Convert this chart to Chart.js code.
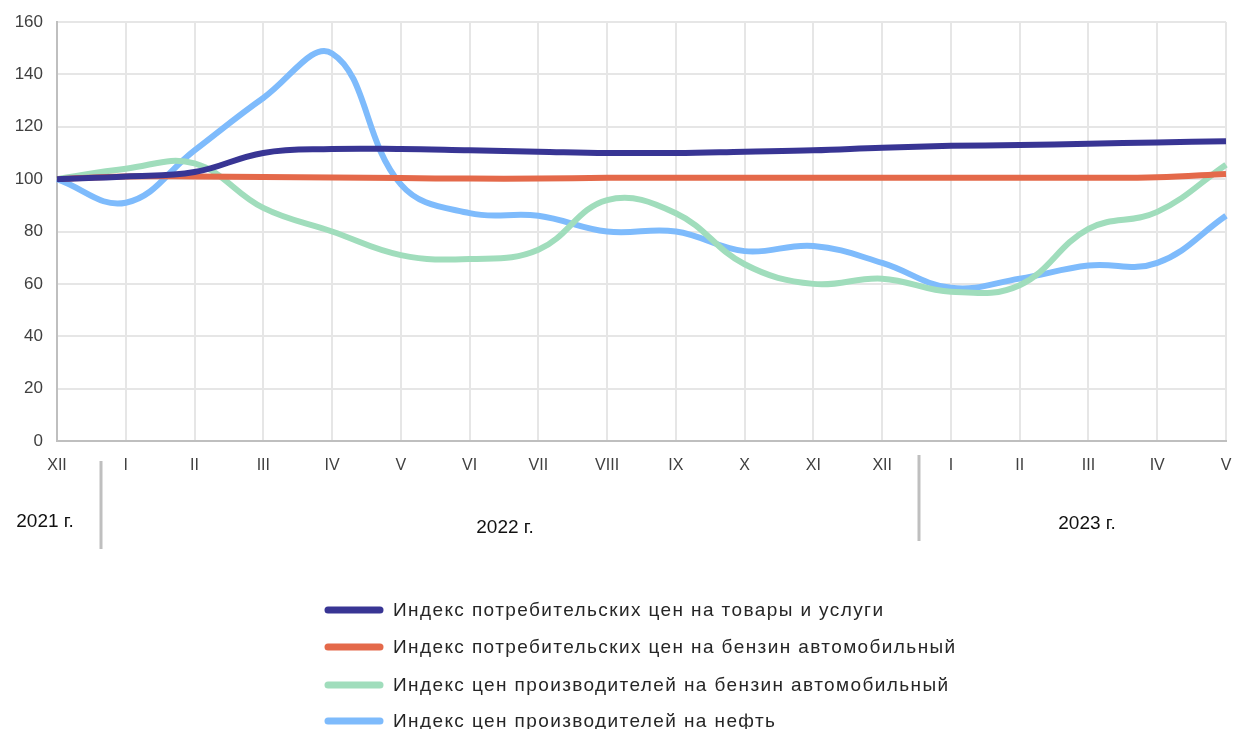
<!DOCTYPE html>
<html>
<head>
<meta charset="utf-8">
<script src="https://cdn.jsdelivr.net/npm/chart.js@4"></script>
<style>
  html, body { margin: 0; padding: 0; background: #fff; }
  #wrap { width: 1235px; height: 729px; position: relative; }
</style>
</head>
<body>
<div id="wrap"><canvas id="chart"></canvas></div>
<script>
const months = ["XII", "I", "II", "III", "IV", "V", "VI", "VII", "VIII", "IX", "X", "XI", "XII", "I", "II", "III", "IV", "V"];
const cpiAll = [100, 101, 102.7, 110, 111.5, 111.5, 111, 110.5, 110, 110, 110.5, 111, 112, 112.7, 113, 113.5, 114, 114.5];
const cpiPetrol = [100, 101, 101, 100.8, 100.6, 100.4, 100.2, 100.2, 100.5, 100.5, 100.5, 100.5, 100.5, 100.5, 100.5, 100.5, 100.7, 102];
const ppiPetrol = [100, 104, 106, 89, 80, 71, 69.5, 73, 92, 87, 67.5, 60, 62, 57, 59.5, 81, 87.5, 105.5];
const ppiOil = [100, 91, 111, 131, 148, 98, 87, 86, 80, 80, 72.5, 74.5, 68, 58.5, 62, 67, 68, 86];
const seriesNames = [
  "Индекс потребительских цен на товары и услуги",
  "Индекс потребительских цен на бензин автомобильный",
  "Индекс цен производителей на бензин автомобильный",
  "Индекс цен производителей на нефть"
];
const seriesColors = ["#383594", "#E4694A", "#A0DDBC", "#7EBBFC"];
const years = ["2021 г.", "2022 г.", "2023 г."];

const FONT = "'Liberation Sans', Arial, sans-serif";

// year labels and separators under the month ticks
const yearPlugin = {
  id: "years",
  afterDraw(chart) {
    const c = chart.ctx;
    const x = chart.scales.x;
    c.save();
    c.strokeStyle = "#bfbfbf";
    c.lineWidth = 3;
    [[0.64, 461, 549], [12.54, 455, 541]].forEach(([v, y1, y2]) => {
      const px = Math.round(x.getPixelForValue(v));
      c.beginPath();
      c.moveTo(px, y1);
      c.lineTo(px, y2);
      c.stroke();
    });
    c.fillStyle = "#111";
    c.font = "19px " + FONT;
    c.textAlign = "center";
    c.textBaseline = "middle";
    c.fillText(years[0], 45, 522);
    c.fillText(years[1], 505, 528);
    c.fillText(years[2], 1087, 524);
    c.restore();
  }
};

// legend drawn as a vertical list below the chart
const legendPlugin = {
  id: "vlegend",
  afterDraw(chart) {
    const c = chart.ctx;
    c.save();
    c.font = "19px " + FONT;
    c.letterSpacing = "1.4px";
    c.textBaseline = "middle";
    c.textAlign = "left";
    const rows = [610, 647, 685, 721];
    chart.data.datasets.forEach((ds, i) => {
      const y = rows[i];
      c.strokeStyle = ds.borderColor;
      c.lineWidth = 7;
      c.lineCap = "round";
      c.beginPath();
      c.moveTo(328, y);
      c.lineTo(380, y);
      c.stroke();
      c.fillStyle = "#262626";
      c.fillText(ds.label, 393, y + 1);
    });
    c.restore();
  }
};

const allSeries = [cpiAll, cpiPetrol, ppiPetrol, ppiOil];
const datasets = allSeries.map((d, i) => ({
  label: seriesNames[i],
  data: d,
  borderColor: seriesColors[i],
  backgroundColor: seriesColors[i],
  borderWidth: 6,
  pointRadius: 0,
  tension: 0.4,
  fill: false
}));

new Chart(document.getElementById("chart"), {
  type: "line",
  data: { labels: months, datasets: datasets },
  options: {
    responsive: true,
    maintainAspectRatio: false,
    animation: false,
    layout: { padding: { top: 22, right: 9, left: 0, bottom: 0 } },
    plugins: {
      legend: { display: false },
      tooltip: { enabled: false }
    },
    scales: {
      x: {
        grid: { color: "#e6e6e6", lineWidth: 2, drawTicks: false },
        border: { color: "#bfbfbf", width: 2 },
        ticks: { color: "#404040", font: { family: FONT, size: 16 }, padding: 15, maxRotation: 0, autoSkip: false },
        afterFit(scale) {
          scale.height = 288;
          scale.paddingLeft = 0;
          scale.paddingRight = 0;
        }
      },
      y: {
        min: 0,
        max: 160,
        grid: { color: "#e6e6e6", lineWidth: 2, drawTicks: false },
        border: { color: "#bfbfbf", width: 2 },
        ticks: { stepSize: 20, color: "#404040", font: { family: FONT, size: 17 }, padding: 14 },
        afterFit(scale) {
          scale.width = 57;
          scale.paddingTop = 0;
          scale.paddingBottom = 0;
        }
      }
    }
  },
  plugins: [yearPlugin, legendPlugin]
});
</script>
</body>
</html>
